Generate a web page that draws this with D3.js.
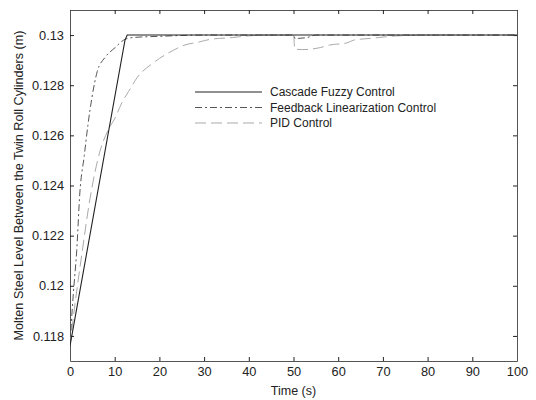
<!DOCTYPE html>
<html>
<head>
<meta charset="utf-8">
<script src="https://cdn.jsdelivr.net/npm/d3@7"></script>
<style>
  body { margin: 0; background: #fff; }
  text { font-family: "Liberation Sans", Arial, sans-serif; }
</style>
</head>
<body>
<div id="chart"></div>
<script>
// values
var fuzzyT = [0, 12.3, 12.8, 50, 100]
var fuzzyY = [0.1176, 0.1298, 0.13, 0.13, 0.13]

var feedbackT = [0, 0.4, 0.75, 1.5, 2.2, 3.2, 4.0, 4.9, 6.1, 7.8, 10.1, 12, 14, 20, 30, 50, 50.4, 51.2, 53, 55, 100]
var feedbackY = [0.1176, 0.1188, 0.1197, 0.1214, 0.1237, 0.1252, 0.1264, 0.1275, 0.12855, 0.1291, 0.1295, 0.1298, 0.1299, 0.12995, 0.13, 0.13, 0.12985, 0.12987, 0.1299, 0.13, 0.13]

var pidT = [0, 1, 2.6, 4.5, 6.6, 8.5, 10.1, 11.6, 13.1, 15, 18.7, 23.2, 25, 29, 31.4, 36.3, 40, 45, 50, 50.3, 52, 56, 58, 62, 63.5, 67.3, 69, 72.4, 80, 100]
var pidY = [0.1176, 0.1191, 0.1212, 0.1235, 0.1253, 0.1262, 0.1267, 0.1273, 0.12775, 0.1283, 0.1289, 0.1294, 0.12956, 0.12973, 0.12983, 0.1299, 0.12997, 0.13, 0.13, 0.12944, 0.12942, 0.1295, 0.1296, 0.12969, 0.1298, 0.12987, 0.1299, 0.12996, 0.13, 0.13]

var xTicks = [0, 10, 20, 30, 40, 50, 60, 70, 80, 90, 100]
var yTicks = [0.118, 0.12, 0.122, 0.124, 0.126, 0.128, 0.13]

var seriesNames = ["Cascade Fuzzy Control", "Feedback Linearization Control", "PID Control"]

const margin = ({ top: 10, right: 19, bottom: 39, left: 70 })
const width = 536 - margin.left - margin.right,
    height = 400 - margin.top - margin.bottom;

let svg = d3.select("#chart").append("svg")
    .attr("width", 536)
    .attr("height", 400)

let g = svg.append("g")
    .attr("transform", "translate(" + margin.left + "," + margin.top + ")");

let x = d3.scaleLinear().domain([0, 100]).range([0, width])
let y = d3.scaleLinear().domain([0.117, 0.131]).range([height, 0])

// inward ticks, matlab style
g.append("g")
    .attr("transform", "translate(0," + height + ")")
    .call(d3.axisBottom(x).tickValues(xTicks).tickSizeInner(-4).tickSizeOuter(0).tickPadding(6).tickFormat(d3.format("d")))
g.append("g")
    .call(d3.axisTop(x).tickValues(xTicks).tickSizeInner(-4).tickSizeOuter(0).tickFormat(""))
g.append("g")
    .call(d3.axisLeft(y).tickValues(yTicks).tickSizeInner(-4).tickSizeOuter(0).tickPadding(6).tickFormat(function (d) { return +d.toFixed(3) }))
g.append("g")
    .attr("transform", "translate(" + width + ",0)")
    .call(d3.axisRight(y).tickValues(yTicks).tickSizeInner(-4).tickSizeOuter(0).tickFormat(""))

g.selectAll(".domain").attr("stroke", "#555")
g.selectAll(".tick line").attr("stroke", "#222")
g.selectAll(".tick text").attr("font-size", 12.8).attr("fill", "#222")

var clip = g.append("clipPath").attr("id", "clip").append("rect")
    .attr("width", width).attr("height", height)

var line = d3.line()
    .x(function (d) { return x(d[0]) })
    .y(function (d) { return y(d[1]) })

var fuzzy = d3.zip(fuzzyT, fuzzyY)
var feedback = d3.zip(feedbackT, feedbackY)
var pid = d3.zip(pidT, pidY)

var styles = [
    { data: fuzzy, color: "#222", dash: null, w: 1.1 },
    { data: feedback, color: "#555", dash: "7,3,2,3", w: 1 },
    { data: pid, color: "#aaa", dash: "11,5", w: 1 }
]

var curve = d3.line()
    .curve(d3.curveMonotoneX)
    .x(function (d) { return x(d[0]) })
    .y(function (d) { return y(d[1]) })

// draw pid first so darker ones sit on top
styles.slice().reverse().forEach(function (s) {
    g.append("path")
        .datum(s.data)
        .attr("clip-path", "url(#clip)")
        .attr("fill", "none")
        .attr("stroke", s.color)
        .attr("stroke-width", s.w)
        .attr("stroke-dasharray", s.dash)
        .attr("d", s.data === fuzzy ? line : curve)
})

// legend
var leg = svg.append("g").attr("transform", "translate(195,92)")
seriesNames.forEach(function (name, i) {
    var s = styles[i]
    leg.append("line")
        .attr("x1", 0).attr("x2", 67)
        .attr("y1", i * 15.5).attr("y2", i * 15.5)
        .attr("stroke", s.color)
        .attr("stroke-width", s.w)
        .attr("stroke-dasharray", s.dash)
    leg.append("text")
        .attr("x", 75).attr("y", i * 15.5)
        .attr("dy", "0.35em")
        .attr("font-size", 12)
        .attr("fill", "#222")
        .text(name)
})

svg.append("text")
    .attr("x", margin.left + width / 2)
    .attr("y", 395)
    .attr("text-anchor", "middle")
    .attr("font-size", 12.5)
    .attr("fill", "#222")
    .text("Time (s)")

svg.append("text")
    .attr("transform", "translate(23," + (margin.top + height / 2) + ") rotate(-90)")
    .attr("text-anchor", "middle")
    .attr("font-size", 12.6)
    .attr("fill", "#222")
    .text("Molten Steel Level Between the Twin Roll Cylinders (m)")
</script>
</body>
</html>
